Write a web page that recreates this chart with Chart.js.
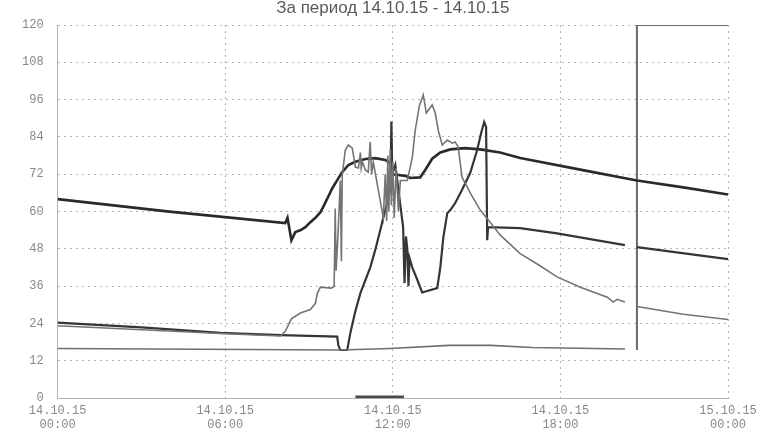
<!DOCTYPE html>
<html>
<head>
<meta charset="utf-8">
<script src="https://cdn.jsdelivr.net/npm/chart.js@4.4.1/dist/chart.umd.min.js"></script>
<style>
  body { margin: 0; background: #fff; }
  #box { width: 778px; height: 447px; }
</style>
</head>
<body>
<div id="box"><canvas id="chart"></canvas></div>
<script>
// x axis is hours from 14.10.15 00:00
const dayLabels = ["14.10.15", "14.10.15", "14.10.15", "14.10.15", "15.10.15"];
const timeLabels = ["00:00", "06:00", "12:00", "18:00", "00:00"];

// thick top line
const aHours = [0, 4, 8.15, 8.23, 8.37, 8.51, 8.69, 8.87, 9.05, 9.23, 9.41, 9.51, 9.66, 9.84, 10.01, 10.19, 10.41, 10.66, 11.02, 11.37, 11.73, 11.91, 12.0, 12.27, 12.45, 12.63, 12.98, 13.16, 13.41, 13.70, 14.06, 14.59, 15.13, 15.84, 16.56, 18.71, 20.74, 22.4, 24];
const aTemps = [64, 60, 56.3, 58, 50.8, 53.4, 54, 55, 56.6, 58, 59.8, 61.5, 64.3, 67.6, 70.1, 72.7, 75, 76, 76.9, 77.2, 76.6, 75.6, 72, 71.7, 71.5, 70.8, 71, 73.4, 77, 79, 80, 80.4, 80, 79, 77.2, 73.5, 70, 67.8, 65.5];

// dark line, drops to 16 and climbs twice
const bHours = [0, 3, 5.83, 8, 10.01, 10.05, 10.12, 10.37, 10.48, 10.66, 10.84, 11.02, 11.19, 11.37, 11.55, 11.73, 11.91, 11.95, 11.98, 12.09, 12.16, 12.27, 12.37, 12.42, 12.47, 12.52, 12.56, 12.60, 12.70, 12.88, 13.05, 13.59, 13.70, 13.81, 13.95, 14.06, 14.23, 14.48, 14.77, 15.02, 15.16, 15.27, 15.34, 15.38, 15.41, 16.56, 17.88, 20.31, 20.5, 20.74, 24];
const bTemps = [24.3, 22.8, 21, 20.3, 19.8, 17, 15.5, 15.5, 21, 28, 33.8, 38, 42, 47.6, 54, 60.5, 67, 89, 72, 75, 70, 62, 55, 37, 52, 48, 36, 45, 42, 38, 34, 35.4, 42, 51.8, 59.5, 60.5, 62.7, 67, 72.4, 79.8, 85.2, 88.8, 87.2, 50.8, 55, 54.7, 53, 49.2, null, 48.6, 44.7];

// grey line with the 98 peak
const cHours = [0, 5.83, 7.98, 8.15, 8.37, 8.69, 9.05, 9.23, 9.30, 9.41, 9.80, 9.90, 9.94, 9.97, 10.05, 10.12, 10.16, 10.19, 10.30, 10.41, 10.55, 10.66, 10.77, 10.84, 10.87, 10.91, 11.02, 11.12, 11.19, 11.24, 11.30, 11.66, 11.73, 11.78, 11.82, 11.86, 11.91, 11.95, 12.0, 12.05, 12.12, 12.2, 12.27, 12.52, 12.70, 12.80, 12.95, 13.09, 13.20, 13.41, 13.52, 13.63, 13.77, 13.95, 14.13, 14.23, 14.34, 14.48, 14.66, 14.77, 15.13, 15.49, 15.84, 16.56, 17.20, 17.88, 18.71, 19.68, 19.89, 20.03, 20.31, 20.5, 20.74, 22.4, 24];
const cTemps = [23.3, 20.8, 20, 21.5, 25.5, 27.4, 28.5, 30.5, 33.8, 35.7, 35.4, 36, 61, 41, 55, 70, 44, 71.7, 79.8, 81.4, 80.4, 74.3, 74, 79, 74, 76, 73.4, 72.7, 82.4, 72, 76, 58, 72, 57, 78, 60, 80, 62, 76, 58, 74, 60, 70, 70, 77.5, 86, 94, 97.5, 91.7, 94.3, 91.7, 86, 81.4, 83, 82, 82.4, 80.8, 71, 68, 66, 60.5, 56.5, 52.5, 46.5, 43, 39, 35.7, 32.5, 30.9, 31.8, 30.9, null, 29.5, 27, 25.3];

// flat bottom line
const eHours = [0, 10.12, 11.9, 14.0, 15.5, 17, 20.31];
const eTemps = [16, 15.5, 16, 17, 17, 16.3, 15.8];

// jump to 120 at the end
const boxHours = [20.74, 20.74, 24];
const boxTemps = [15.5, 120, 120];

// pen mark on the axis
const markHours = [10.66, 12.4];
const markTemps = [0.4, 0.4];

const pts = (hs, vs) => hs.map((h, i) => ({ x: h, y: vs[i] }));

const line = (data, color, width) => ({
  data: data,
  borderColor: color,
  borderWidth: width,
  pointRadius: 0,
  fill: false,
  spanGaps: false,
  tension: 0,
});

const tickFont = { family: "Liberation Mono", size: 12 };
const gridStyle = { color: "#b4b4b4", lineWidth: 1, drawTicks: false };
const borderStyle = { dash: [2, 4], color: "#b4b4b4" };

new Chart(document.getElementById("chart"), {
  type: "line",
  data: {
    datasets: [
      line(pts(eHours, eTemps), "#6f6f6f", 1.6),
      line(pts(cHours, cTemps), "#747474", 1.6),
      line(pts(bHours, bTemps), "#353535", 2.2),
      line(pts(aHours, aTemps), "#2a2a2a", 2.6),
      line(pts(boxHours, boxTemps), "#6a6a6a", 2),
      line(pts(markHours, markTemps), "#4a4a4a", 3),
    ],
  },
  options: {
    responsive: true,
    maintainAspectRatio: false,
    animation: false,
    layout: { padding: { left: 8, right: 50, top: 0, bottom: 10 } },
    plugins: {
      legend: { display: false },
      tooltip: { enabled: false },
      title: {
        display: true,
        fullSize: false,
        text: "За период 14.10.15 - 14.10.15",
        color: "#5a5a5a",
        font: { family: "Liberation Sans", size: 17, weight: "normal", lineHeight: 1 },
        padding: { top: 0, bottom: 8 },
      },
    },
    scales: {
      x: {
        type: "linear",
        min: 0,
        max: 24,
        ticks: {
          stepSize: 6,
          color: "#888",
          font: tickFont,
          padding: 5,
          maxRotation: 0,
          callback: (v) => {
            const i = Math.round(v / 6);
            return [dayLabels[i], timeLabels[i]];
          },
        },
        grid: gridStyle,
        border: borderStyle,
      },
      y: {
        min: 0,
        max: 120,
        ticks: { stepSize: 12, color: "#888", font: tickFont, padding: 14 },
        grid: gridStyle,
        border: borderStyle,
      },
    },
  },
});
</script>
</body>
</html>
